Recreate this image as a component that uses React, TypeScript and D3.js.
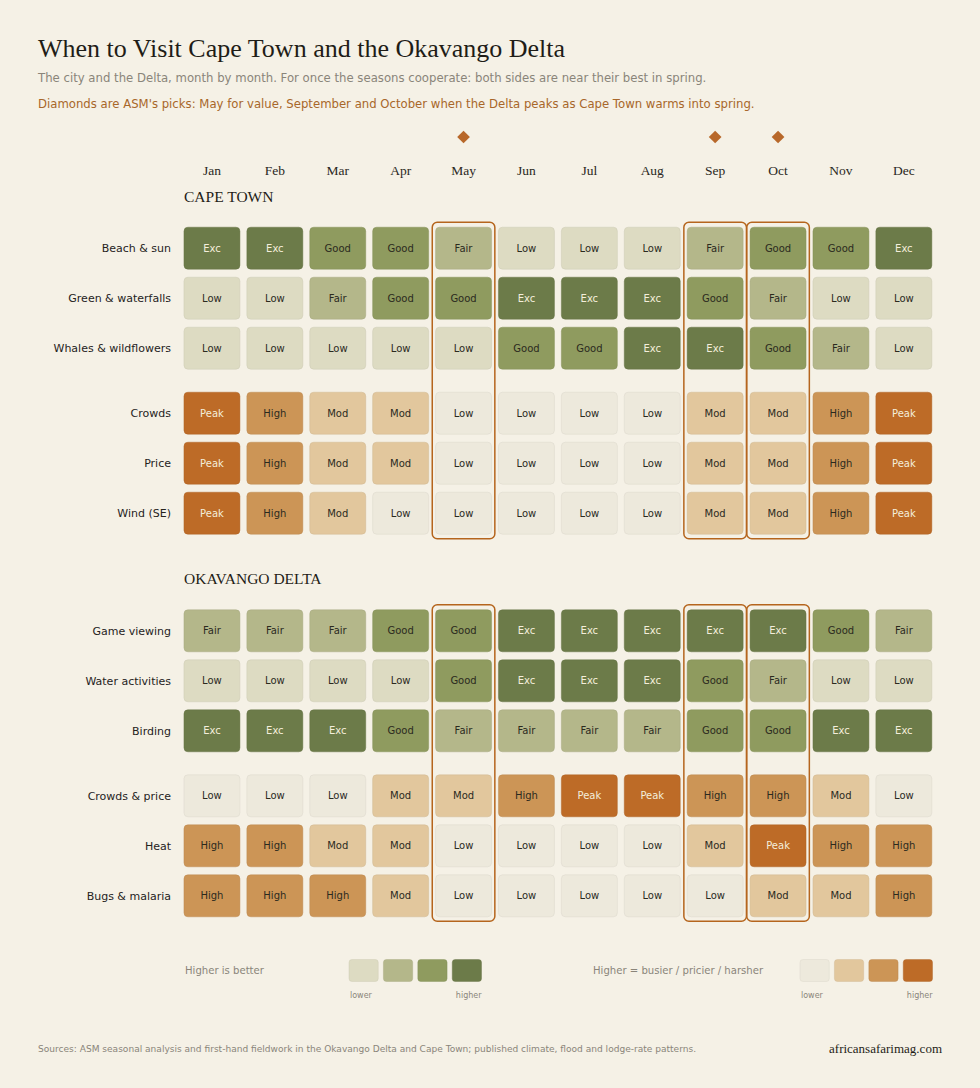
import React, { useEffect } from "react";
import * as d3 from "d3";

const months = ["Jan", "Feb", "Mar", "Apr", "May", "Jun", "Jul", "Aug", "Sep", "Oct", "Nov", "Dec"];
const picks = ["May", "Sep", "Oct"];

const goodLevels = ["Low", "Fair", "Good", "Exc"];
const harshLevels = ["Low", "Mod", "High", "Peak"];

const goodColors = ["#dddbc2", "#b4b78a", "#8f9b5f", "#6c7b49"];
const harshColors = ["#ede9dc", "#e2c79d", "#cc9556", "#bd6b27"];

// Cape Town
const capeGoodRows = ["Beach & sun", "Green & waterfalls", "Whales & wildflowers"];
const capeGood = [
  ["Exc", "Exc", "Good", "Good", "Fair", "Low", "Low", "Low", "Fair", "Good", "Good", "Exc"],
  ["Low", "Low", "Fair", "Good", "Good", "Exc", "Exc", "Exc", "Good", "Fair", "Low", "Low"],
  ["Low", "Low", "Low", "Low", "Low", "Good", "Good", "Exc", "Exc", "Good", "Fair", "Low"],
];
const capeHarshRows = ["Crowds", "Price", "Wind (SE)"];
const capeHarsh = [
  ["Peak", "High", "Mod", "Mod", "Low", "Low", "Low", "Low", "Mod", "Mod", "High", "Peak"],
  ["Peak", "High", "Mod", "Mod", "Low", "Low", "Low", "Low", "Mod", "Mod", "High", "Peak"],
  ["Peak", "High", "Mod", "Low", "Low", "Low", "Low", "Low", "Mod", "Mod", "High", "Peak"],
];

// Okavango Delta
const okaGoodRows = ["Game viewing", "Water activities", "Birding"];
const okaGood = [
  ["Fair", "Fair", "Fair", "Good", "Good", "Exc", "Exc", "Exc", "Exc", "Exc", "Good", "Fair"],
  ["Low", "Low", "Low", "Low", "Good", "Exc", "Exc", "Exc", "Good", "Fair", "Low", "Low"],
  ["Exc", "Exc", "Exc", "Good", "Fair", "Fair", "Fair", "Fair", "Good", "Good", "Exc", "Exc"],
];
const okaHarshRows = ["Crowds & price", "Heat", "Bugs & malaria"];
const okaHarsh = [
  ["Low", "Low", "Low", "Mod", "Mod", "High", "Peak", "Peak", "High", "High", "Mod", "Low"],
  ["High", "High", "Mod", "Mod", "Low", "Low", "Low", "Low", "Mod", "Peak", "High", "High"],
  ["High", "High", "High", "Mod", "Low", "Low", "Low", "Low", "Low", "Mod", "Mod", "High"],
];

const W = 980;
const H = 1088;
const BG = "#f5f1e6";
const ACCENT = "#b5651d";
const SANS = "'DejaVu Sans', sans-serif";
const SERIF = "'Liberation Serif', 'DejaVu Serif', serif";

const goodColor = d3.scaleOrdinal<string, string>().domain(goodLevels).range(goodColors);
const harshColor = d3.scaleOrdinal<string, string>().domain(harshLevels).range(harshColors);

const x = d3
  .scaleBand<string>()
  .domain(months)
  .range([180.5, 935.3])
  .paddingInner(0.094)
  .paddingOuter(0.047);

const cellH = 43;
const rowStep = 50;
const groupGap = 15;

type Section = {
  title: string;
  top: number;
  good: string[][];
  goodRows: string[];
  harsh: string[][];
  harshRows: string[];
};

const sections: Section[] = [
  { title: "CAPE TOWN", top: 226.7, good: capeGood, goodRows: capeGoodRows, harsh: capeHarsh, harshRows: capeHarshRows },
  { title: "OKAVANGO DELTA", top: 609.3, good: okaGood, goodRows: okaGoodRows, harsh: okaHarsh, harshRows: okaHarshRows },
];

const rowY = (top: number, i: number) => top + i * rowStep + (i >= 3 ? groupGap : 0);

const Cell: React.FC<{ m: string; y: number; v: string; fill: string; light: boolean }> = ({ m, y, v, fill, light }) => {
  const cx = x(m)! + x.bandwidth() / 2;
  return (
    <g>
      <rect
        x={x(m)! + 0.5}
        y={y + 0.5}
        width={x.bandwidth() - 1}
        height={cellH - 1}
        rx={4}
        fill={fill}
        stroke={d3.color(fill)!.darker(0.25).formatHex()}
        strokeOpacity={0.45}
        strokeWidth={1}
      />
      <text
        x={cx}
        y={y + cellH / 2}
        dy="0.35em"
        textAnchor="middle"
        fontFamily={SANS}
        fontSize={10}
        fill={light ? "#f4eedb" : "#2b2a1e"}
      >
        {v}
      </text>
    </g>
  );
};

const App: React.FC = () => {
  useEffect(() => {
    document.body.style.margin = "0";
    document.body.style.background = BG;
  }, []);

  const pad = 2.8;
  return (
    <svg
      width={W}
      height={H}
      style={{ display: "block", position: "absolute", left: 0, top: 0, background: BG }}
    >
      <rect width={W} height={H} fill={BG} />
      <text x={38} y={57} fontFamily={SERIF} fontSize={26} fill="#1f1d17">
        When to Visit Cape Town and the Okavango Delta
      </text>
      <text x={38} y={82} fontFamily={SANS} fontSize={11.7} fill="#8a857a">
        The city and the Delta, month by month. For once the seasons cooperate: both sides are near their best in spring.
      </text>
      <text x={38} y={108} fontFamily={SANS} fontSize={11.7} fill="#a8672a">
        Diamonds are ASM's picks: May for value, September and October when the Delta peaks as Cape Town warms into spring.
      </text>

      {/* month header and pick diamonds */}
      {months.map((m) => {
        const cx = x(m)! + x.bandwidth() / 2;
        return (
          <g key={m}>
            <text x={cx} y={175} textAnchor="middle" fontFamily={SERIF} fontSize={13.5} fill="#2a2822">
              {m}
            </text>
            {picks.includes(m) && (
              <rect x={cx - 4.5} y={137 - 4.5} width={9} height={9} fill="#b8682a" transform={`rotate(45 ${cx} 137)`} />
            )}
          </g>
        );
      })}

      {sections.map((s) => {
        const all = [...s.good, ...s.harsh];
        const labels = [...s.goodRows, ...s.harshRows];
        const bottom = rowY(s.top, all.length - 1) + cellH;
        return (
          <g key={s.title}>
            <text x={184} y={s.top - 25} fontFamily={SERIF} fontSize={15.5} fill="#1f1d17">
              {s.title}
            </text>
            {labels.map((lab, i) => (
              <text
                key={lab}
                x={171}
                y={rowY(s.top, i) + cellH / 2}
                dy="0.35em"
                textAnchor="end"
                fontFamily={SANS}
                fontSize={11}
                fill="#25231d"
              >
                {lab}
              </text>
            ))}
            {all.map((row, i) =>
              row.map((v, j) => {
                const isGood = i < s.good.length;
                const fill = isGood ? goodColor(v) : harshColor(v);
                const light = v === "Exc" || v === "Peak";
                return <Cell key={`${i}-${j}`} m={months[j]} y={rowY(s.top, i)} v={v} fill={fill} light={light} />;
              })
            )}
            {picks.map((m) => (
              <rect
                key={m}
                x={x(m)! - pad}
                y={s.top - 4.5}
                width={x.bandwidth() + 2 * pad}
                height={bottom - s.top + 8.5}
                rx={5}
                fill="none"
                stroke={ACCENT}
                strokeWidth={1.5}
              />
            ))}
          </g>
        );
      })}

      {/* legends */}
      {[
        { label: "Higher is better", lx: 185, sx: 349, colors: goodColors },
        { label: "Higher = busier / pricier / harsher", lx: 593, sx: 800, colors: harshColors },
      ].map((lg) => {
        const sw = d3.scaleBand<number>().domain(d3.range(4)).range([lg.sx, lg.sx + 132.5]).paddingInner(0.15);
        return (
          <g key={lg.label}>
            <text x={lg.lx} y={970} dy="0.35em" fontFamily={SANS} fontSize={10.1} fill="#8a857a">
              {lg.label}
            </text>
            {lg.colors.map((c, i) => (
              <rect
                key={c}
                x={sw(i)!}
                y={959.5}
                width={sw.bandwidth()}
                height={22}
                rx={3}
                fill={c}
                stroke={d3.color(c)!.darker(0.25).formatHex()}
                strokeOpacity={0.4}
              />
            ))}
            <text x={sw(0)! + 1} y={998} fontFamily={SANS} fontSize={8} fill="#8a857a">
              lower
            </text>
            <text x={sw(3)! + sw.bandwidth()} y={998} textAnchor="end" fontFamily={SANS} fontSize={8} fill="#8a857a">
              higher
            </text>
          </g>
        );
      })}

      <text x={38} y={1052} fontFamily={SANS} fontSize={9.05} fill="#8a857a">
        Sources: ASM seasonal analysis and first-hand fieldwork in the Okavango Delta and Cape Town; published climate, flood and lodge-rate patterns.
      </text>
      <text x={942} y={1053} textAnchor="end" fontFamily={SERIF} fontSize={13} fill="#1f1d17">
        africansafarimag.com
      </text>
    </svg>
  );
};

export default App;
